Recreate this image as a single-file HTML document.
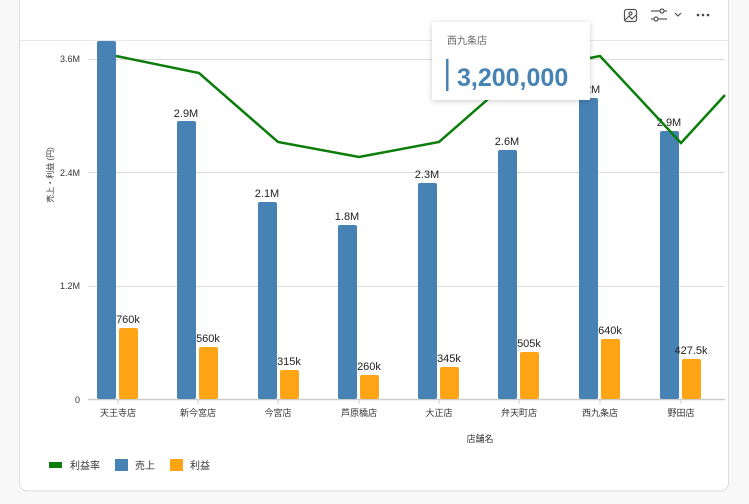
<!DOCTYPE html>
<html><head><meta charset="utf-8"><style>
body{margin:0;width:749px;height:504px;background:#f8f8f8;overflow:hidden;font-family:"Liberation Sans","Noto Sans CJK JP",sans-serif}
</style></head><body>
<svg width="749" height="504" xmlns="http://www.w3.org/2000/svg" style="position:absolute;left:0;top:0;font-family:'Liberation Sans','Noto Sans CJK JP',sans-serif">
<rect x="19.5" y="-20" width="709" height="511" rx="8" fill="#fff" stroke="#ddd"/>
<line x1="20" y1="40.5" x2="728" y2="40.5" stroke="#e6e6e6"/>
<g stroke="#555" fill="none" stroke-width="1.2">
<rect x="624.5" y="9.5" width="12" height="12" rx="2"/><circle cx="630.5" cy="13.5" r="1.5"/><path d="M625 20 l4-4 l3 3 l4-4"/>
<line x1="651" y1="11" x2="667" y2="11"/><line x1="651" y1="19" x2="667" y2="19"/>
<circle cx="662" cy="11" r="2" fill="#fff"/><circle cx="656" cy="19" r="2" fill="#fff"/>
<path d="M675 13 l3 3 l3 -3"/>
</g>
<g fill="#444"><circle cx="698" cy="15" r="1.3"/><circle cx="703" cy="15" r="1.3"/><circle cx="708" cy="15" r="1.3"/></g>
<g stroke="#ddd"><line x1="88" y1="59.5" x2="725" y2="59.5"/><line x1="88" y1="172.5" x2="725" y2="172.5"/><line x1="88" y1="286.5" x2="725" y2="286.5"/></g>
<line x1="88" y1="399.5" x2="725" y2="399.5" stroke="#ccc" stroke-width="1.5"/>
<g font-size="9" fill="#333" text-anchor="end"><text x="80" y="62">3.6M</text><text x="80" y="176">2.4M</text><text x="80" y="289">1.2M</text><text x="80" y="403">0</text></g>
<text transform="translate(53,175) rotate(-90)" font-size="8" fill="#333" text-anchor="middle">売上・利益 (円)</text>
<g fill="#4682b4">
<rect x="97" y="41" width="19" height="358" rx="2"/>
<rect x="177" y="121" width="19" height="278" rx="2"/>
<rect x="258" y="202" width="19" height="197" rx="2"/>
<rect x="338" y="225" width="19" height="174" rx="2"/>
<rect x="418" y="183" width="19" height="216" rx="2"/>
<rect x="498" y="150" width="19" height="249" rx="2"/>
<rect x="579" y="98" width="19" height="301" rx="2"/>
<rect x="660" y="131" width="19" height="268" rx="2"/>
</g>
<g fill="#ffa515">
<rect x="119" y="328" width="19" height="71" rx="2"/>
<rect x="199" y="347" width="19" height="52" rx="2"/>
<rect x="280" y="370" width="19" height="29" rx="2"/>
<rect x="360" y="375" width="19" height="24" rx="2"/>
<rect x="440" y="367" width="19" height="32" rx="2"/>
<rect x="520" y="352" width="19" height="47" rx="2"/>
<rect x="601" y="339" width="19" height="60" rx="2"/>
<rect x="682" y="359" width="19" height="40" rx="2"/>
</g>
<g font-size="11" fill="#222" text-anchor="middle">
<text x="186" y="117">2.9M</text><text x="267" y="197">2.1M</text><text x="347" y="220">1.8M</text><text x="427" y="178">2.3M</text><text x="507" y="145">2.6M</text><text x="588" y="93">3.2M</text><text x="669" y="126">2.9M</text>
<text x="128" y="323">760k</text><text x="208" y="342">560k</text><text x="289" y="365">315k</text><text x="369" y="370">260k</text><text x="449" y="362">345k</text><text x="529" y="347">505k</text><text x="610" y="334">640k</text><text x="691" y="354">427.5k</text>
</g>
<polyline points="116,56 199,73 278,142 359,157 439,142 519,72 600,56 681,143 725,95" fill="none" stroke="#0a7d0a" stroke-width="2.5"/>
<g font-size="9" fill="#333" text-anchor="middle">
<text x="118" y="416">天王寺店</text><text x="198" y="416">新今宮店</text><text x="278" y="416">今宮店</text><text x="359" y="416">芦原橋店</text><text x="439" y="416">大正店</text><text x="519" y="416">弁天町店</text><text x="600" y="416">西九条店</text><text x="681" y="416">野田店</text>
<text x="480" y="442">店舗名</text>
</g>
<g stroke="#ccc"><line x1="118" y1="400" x2="118" y2="404"/><line x1="198" y1="400" x2="198" y2="404"/><line x1="278" y1="400" x2="278" y2="404"/><line x1="359" y1="400" x2="359" y2="404"/><line x1="439" y1="400" x2="439" y2="404"/><line x1="519" y1="400" x2="519" y2="404"/><line x1="600" y1="400" x2="600" y2="404"/><line x1="681" y1="400" x2="681" y2="404"/></g>
<rect x="49" y="462" width="13" height="6" fill="#0a7d0a"/><text x="70" y="469" font-size="10" fill="#333">利益率</text>
<rect x="115" y="459" width="13" height="12" fill="#4682b4"/><text x="135" y="469" font-size="10" fill="#333">売上</text>
<rect x="170" y="459" width="13" height="12" fill="#ffa515"/><text x="190" y="469" font-size="10" fill="#333">利益</text>
<rect x="432" y="22" width="158" height="78" fill="#fff" filter="drop-shadow(0 1px 3px rgba(0,0,0,0.2))"/>
<text x="447" y="44" font-size="10" fill="#666">西九条店</text>
<rect x="446" y="59" width="2.5" height="32" fill="#4682b4"/>
<text x="457" y="86" font-size="25" font-weight="bold" fill="#4682b4">3,200,000</text>
</svg>
</body></html>
